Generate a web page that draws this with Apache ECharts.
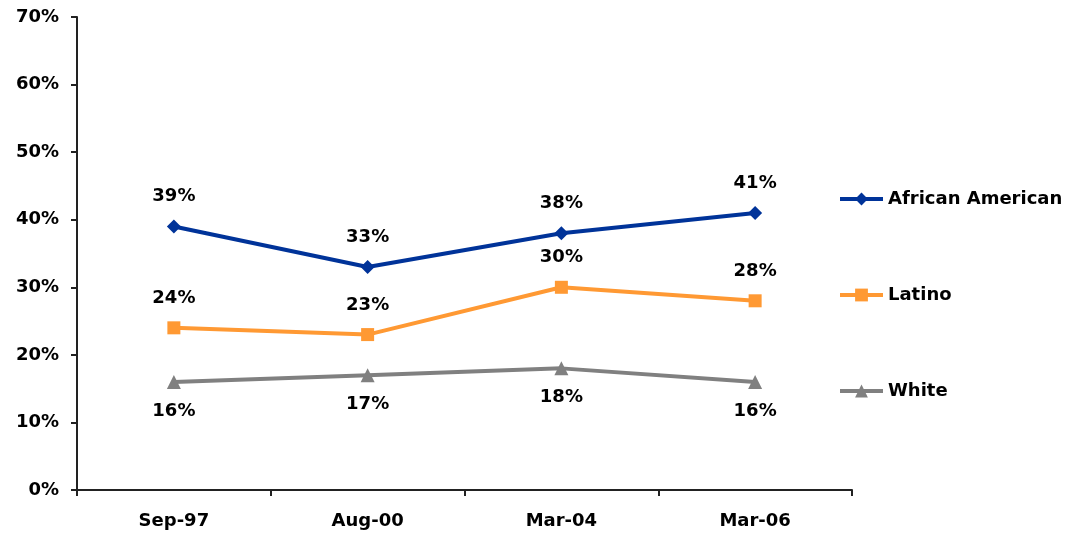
<!DOCTYPE html>
<html>
<head>
<meta charset="utf-8">
<script src="https://cdn.jsdelivr.net/npm/echarts@6/dist/echarts.min.js"></script>
<style>
    html, body { margin: 0; padding: 0; background: #fff; }
    #main { width: 1074px; height: 533px; }
</style>
</head>
<body>
<div id="main"></div>
<script>
    // 数据
    var categories = ['Sep-97', 'Aug-00', 'Mar-04', 'Mar-06'];
    var africanAmerican = [39, 33, 38, 41];
    var latino = [24, 23, 30, 28];
    var white = [16, 17, 18, 16];

    var font = 'DejaVu Sans';
    var labelStyle = {
        show: true,
        fontFamily: font,
        fontWeight: 'bold',
        fontSize: 18,
        color: '#000',
        formatter: function (p) {
            return p.value + '%';
        }
    };

    var myChart = echarts.init(document.getElementById('main'));
    var opt = {
        animation: false,
        textStyle: { fontFamily: font },
        grid: {
            left: 77,
            right: 222,
            top: 17,
            bottom: 43,
            containLabel: false
        },
        legend: {
            orient: 'vertical',
            left: 833,
            top: 185,
            itemGap: 78,
            itemWidth: 43,
            itemHeight: 16,
            lineStyle: { width: 4 },
            textStyle: {
                fontFamily: font,
                fontWeight: 'bold',
                fontSize: 18,
                color: '#000'
            },
            data: ['African American', 'Latino', 'White']
        },
        xAxis: [{
            type: 'category',
            boundaryGap: true,
            data: categories,
            axisLine: { lineStyle: { color: '#222', width: 2 } },
            axisTick: { show: true, length: 6, lineStyle: { color: '#222', width: 2 } },
            axisLabel: {
                margin: 22,
                fontFamily: font,
                fontWeight: 'bold',
                fontSize: 18,
                color: '#000'
            }
        }],
        yAxis: [{
            type: 'value',
            min: 0,
            max: 70,
            interval: 10,
            splitLine: { show: false },
            axisLine: { show: true, lineStyle: { color: '#222', width: 2 } },
            axisTick: { show: true, length: 6, lineStyle: { color: '#222', width: 2 } },
            axisLabel: {
                margin: 18,
                fontFamily: font,
                fontWeight: 'bold',
                fontSize: 18,
                color: '#000',
                formatter: '{value}%'
            }
        }],
        series: [
            {
                name: 'African American',
                type: 'line',
                data: africanAmerican,
                symbol: 'diamond',
                symbolSize: 14,
                color: '#003399',
                lineStyle: { width: 4 },
                label: Object.assign({}, labelStyle, { position: 'top', distance: 14 })
            },
            {
                name: 'Latino',
                type: 'line',
                data: latino,
                symbol: 'rect',
                symbolSize: 13,
                color: '#ff9933',
                lineStyle: { width: 4 },
                label: Object.assign({}, labelStyle, { position: 'top', distance: 14 })
            },
            {
                name: 'White',
                type: 'line',
                data: white,
                symbol: 'triangle',
                symbolSize: 14,
                color: '#808080',
                lineStyle: { width: 4 },
                label: Object.assign({}, labelStyle, { position: 'bottom', distance: 13 })
            }
        ]
    };
    myChart.setOption(opt);
</script>
</body>
</html>
